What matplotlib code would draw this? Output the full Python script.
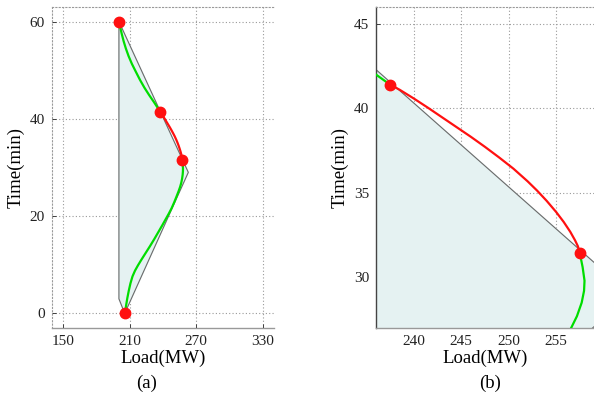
import matplotlib
matplotlib.use("Agg")
import matplotlib.pyplot as plt

plt.rcParams['font.family'] = ['Liberation Serif', 'DejaVu Serif']

# Feasible region boundary (Load MW, Time min)
region_load = [200.3, 200.3, 205.5, 262.8, 200.3]
region_time = [60.0, 3.0, 0.0, 29.0, 60.0]

# Green trajectory, upper part
green_up_load = [200.5, 201.5, 202.8, 204.5, 206.5, 209.0, 212.0, 215.5, 219.3, 223.3,
                 227.5, 232.0, 236.0, 237.5]
green_up_time = [60.0, 58.8, 57.5, 56.0, 54.5, 52.9, 51.3, 49.7, 48.0, 46.4,
                 44.9, 43.4, 42.0, 41.4]

# Red segment
red_load = [237.5, 238.5, 240.0, 241.5, 243.0, 244.5, 246.0, 247.5, 249.0, 250.5,
            252.0, 253.0, 254.0, 255.0, 255.8, 256.5, 257.0, 257.3, 257.5]
red_time = [41.4, 41.1, 40.58, 40.03, 39.46, 38.89, 38.32, 37.72, 37.09, 36.43,
            35.68, 35.13, 34.53, 33.87, 33.28, 32.69, 32.19, 31.84, 31.44]

# Green trajectory, lower part
green_lo_load = [257.5, 257.8, 258.0, 257.95, 257.7, 257.2, 256.5, 255.4, 254.0, 252.3,
                 250.2, 247.7, 245.2, 242.5, 239.3, 236.0, 232.2, 228.2, 224.3, 220.7,
                 217.5, 214.8, 212.5, 210.7, 209.2, 207.9, 206.8, 205.7]
green_lo_time = [31.44, 30.6, 29.8, 29.2, 28.5, 27.7, 26.9, 26.0, 25.1, 24.1,
                 22.9, 21.6, 20.5, 19.4, 18.1, 16.8, 15.3, 13.8, 12.4, 11.1,
                 9.9, 8.8, 7.6, 6.2, 4.7, 3.2, 1.7, 0.0]

# Key points
pts_load = [200.5, 237.5, 257.5, 205.7]
pts_time = [60.0, 41.4, 31.44, 0.0]

xticks_a = [150, 210, 270, 330]
yticks_a = [0, 20, 40, 60]
xticks_b = [240, 245, 250, 255]
yticks_b = [30, 35, 40, 45]

fig = plt.figure(figsize=(5.94, 3.94), dpi=100)
ax_a = fig.add_axes([52/594, 66/394, 222/594, 321/394])
ax_b = fig.add_axes([376/594, 66/394, 218/594, 321/394])

fill_c = '#e5f2f2'
green = '#00dd00'
red = '#ff1010'
gridkw = dict(color='#999999', linestyle=(0, (1, 2.0)), linewidth=0.8)

for ax in (ax_a, ax_b):
    ax.fill(region_load, region_time, color=fill_c, zorder=1)
    ax.plot(region_load, region_time, color='#6a6a6a', lw=0.8, zorder=2)
    ax.plot(green_up_load, green_up_time, color=green, lw=1.6, zorder=3,
            solid_joinstyle='round')
    ax.plot(green_lo_load, green_lo_time, color=green, lw=1.6, zorder=3,
            solid_joinstyle='round')
    ax.plot(red_load, red_time, color=red, lw=1.6, zorder=4, solid_joinstyle='round')
    ax.plot(pts_load, pts_time, 'o', color=red, ms=7.5, mec=red, zorder=5)
    ax.grid(True, **gridkw)
    ax.set_axisbelow(True)
    ax.spines['right'].set_visible(False)
    ax.spines['top'].set_linestyle((0, (1, 2.0)))
    ax.spines['top'].set_color('#999999')
    ax.spines['top'].set_linewidth(0.8)
    ax.spines['bottom'].set_color('#999999')
    ax.spines['bottom'].set_linewidth(1.0)
    ax.tick_params(direction='in', length=3, width=0.6, colors='#222222',
                   labelsize=11, pad=5)
    ax.set_xlabel('Load(MW)', fontsize=13.5, labelpad=1)
    ax.set_ylabel('Time(min)', fontsize=13.5, labelpad=4)

ax_a.spines['left'].set_linestyle((0, (1, 2.0)))
ax_a.spines['left'].set_color('#999999')
ax_a.spines['left'].set_linewidth(0.8)
ax_b.spines['left'].set_color('#444444')
ax_b.spines['left'].set_linewidth(1.0)

ax_a.set_xlim(140, 340)
ax_a.set_ylim(-3, 63)
ax_a.set_xticks(xticks_a)
ax_a.set_yticks(yticks_a)

ax_b.set_xlim(236, 259)
ax_b.set_ylim(27, 46)
ax_b.set_xticks(xticks_b)
ax_b.set_yticks(yticks_b)

fig.text(147/594, 1 - 383/394, '(a)', ha='center', va='center', fontsize=13.5)
fig.text(490/594, 1 - 383/394, '(b)', ha='center', va='center', fontsize=13.5)

fig.savefig('out.png', dpi=100)
